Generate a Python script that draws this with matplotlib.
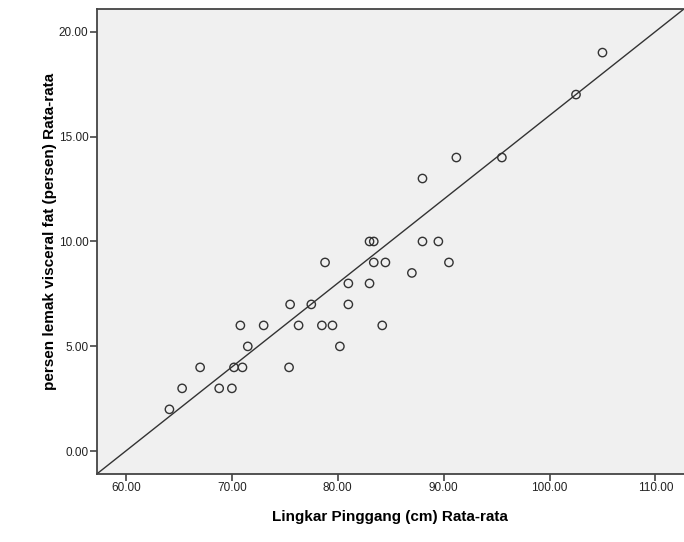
import matplotlib.pyplot as plt

plt.rcParams['font.family'] = ['Liberation Sans', 'DejaVu Sans']

# Lingkar Pinggang (cm) Rata-rata
lingkar = [105.0, 102.5, 95.5, 91.2, 88.0,
           83.0, 83.4, 88.0, 89.5,
           78.8, 83.4, 84.5, 90.5,
           87.0,
           81.0, 83.0,
           77.5, 81.0, 75.5,
           76.3, 78.5, 79.5, 84.2, 70.8, 73.0,
           80.2, 71.5,
           67.0, 70.2, 71.0, 75.4,
           65.3, 68.8, 70.0,
           64.1]
# persen lemak visceral fat (persen) Rata-rata
visceral = [19, 17, 14, 14, 13,
            10, 10, 10, 10,
            9, 9, 9, 9,
            8.5,
            8, 8,
            7, 7, 7,
            6, 6, 6, 6, 6, 6,
            5, 5,
            4, 4, 4, 4,
            3, 3, 3,
            2]

x_ticks = [60, 70, 80, 90, 100, 110]
y_ticks = [0, 5, 10, 15, 20]

fig = plt.figure(figsize=(6.84, 5.42), dpi=100)
ax = fig.add_axes([0.1415, 0.1255, 0.8585, 0.858])
ax.set_facecolor('#f0f0f0')

# reference line corner to corner of the plot area
ax.plot([0, 1], [0, 1], transform=ax.transAxes, color='#333333', lw=1.0,
        zorder=2)

ax.scatter(lingkar, visceral, s=36, facecolors='none', edgecolors='#333333',
           linewidths=1.0, zorder=3)

ax.set_xlim(57.24, 112.7)
ax.set_ylim(-1.08, 21.08)
ax.set_xticks(x_ticks)
ax.set_xticklabels(['%.2f' % v for v in x_ticks])
ax.set_yticks(y_ticks)
ax.set_yticklabels(['%.2f' % v for v in y_ticks])
ax.tick_params(direction='out', length=5, width=1.2, color='#444444',
               labelsize=8.5, labelcolor='#222222', pad=1)

for s in ['left', 'bottom', 'top']:
    ax.spines[s].set_color('#444444')
    ax.spines[s].set_linewidth(1.3)
ax.spines['right'].set_visible(False)

ax.set_xlabel('Lingkar Pinggang (cm) Rata-rata', fontsize=11,
              fontweight='bold')
ax.set_ylabel('persen lemak visceral fat (persen) Rata-rata', fontsize=11,
              fontweight='bold')
ax.xaxis.set_label_coords(0.5, -0.078)
ax.yaxis.set_label_coords(-0.068, 0.522)

fig.savefig('out.png', dpi=100)
